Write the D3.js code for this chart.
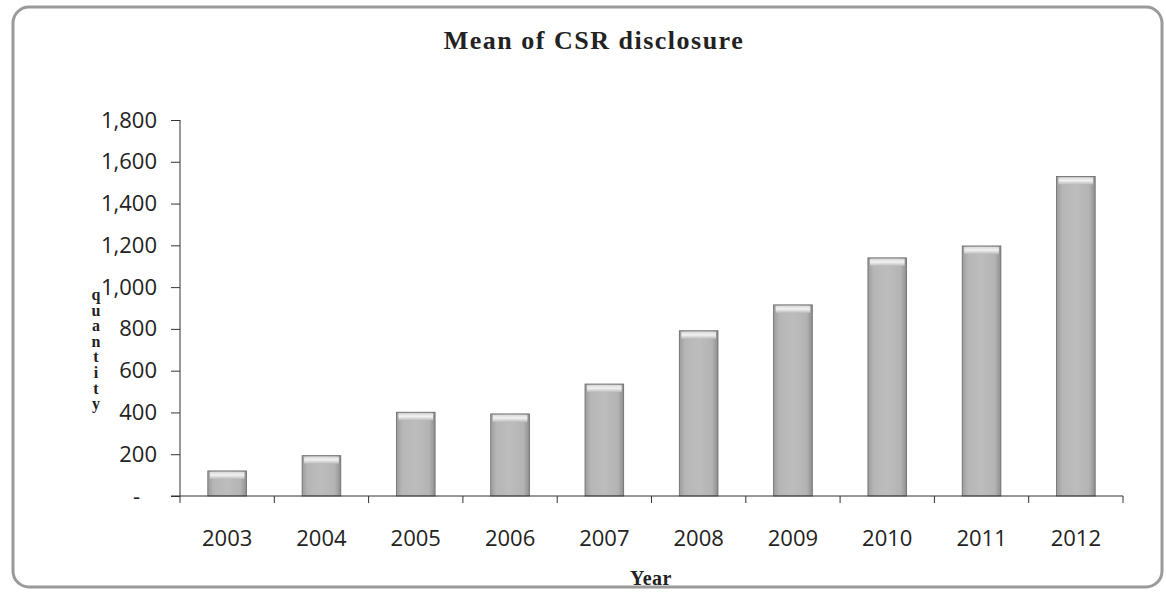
<!DOCTYPE html>
<html>
<head>
<meta charset="utf-8">
<script src="https://cdn.jsdelivr.net/npm/d3@7"></script>
<style>
  body { margin: 0; background: #fff; }
  svg { display: block; }
</style>
</head>
<body>
<svg id="chart" width="1166" height="593"></svg>
<script>
'use strict';

// data
var years = ['2003','2004','2005','2006','2007','2008','2009','2010','2011','2012'];
var meanValues = [120, 193, 401, 393, 536, 791, 915, 1140, 1197, 1530];
var yTicks = [0, 200, 400, 600, 800, 1000, 1200, 1400, 1600, 1800];
var yLabel = 'quantity';

var svg = d3.select('#chart');

// outer rounded frame
svg.append('rect')
  .attr('x', 13).attr('y', 7)
  .attr('width', 1149).attr('height', 580)
  .attr('rx', 16)
  .attr('fill', '#fff')
  .attr('stroke', '#9a9a9a')
  .attr('stroke-width', 3);

// scales
var x = d3.scaleBand().domain(years).range([180, 1123])
  .paddingInner(0.59).paddingOuter(0.295);
var y = d3.scaleLinear().domain([0, 1800]).range([496, 120]);

// gradients for the bars
var defs = svg.append('defs');
var sideGrad = defs.append('linearGradient').attr('id', 'barSide')
  .attr('x1', 0).attr('x2', 1).attr('y1', 0).attr('y2', 0);
sideGrad.append('stop').attr('offset', '0%').attr('stop-color', '#9c9c9c');
sideGrad.append('stop').attr('offset', '15%').attr('stop-color', '#b6b6b6');
sideGrad.append('stop').attr('offset', '50%').attr('stop-color', '#bdbdbd');
sideGrad.append('stop').attr('offset', '85%').attr('stop-color', '#b3b3b3');
sideGrad.append('stop').attr('offset', '100%').attr('stop-color', '#8e8e8e');
var topGrad = defs.append('linearGradient').attr('id', 'barTop')
  .attr('x1', 0).attr('x2', 0).attr('y1', 0).attr('y2', 1);
topGrad.append('stop').attr('offset', '0%').attr('stop-color', '#d8d8d8');
topGrad.append('stop').attr('offset', '45%').attr('stop-color', '#f2f2f2');
topGrad.append('stop').attr('offset', '100%').attr('stop-color', '#bcbcbc');

// bars
var bars = svg.append('g').selectAll('g').data(years)
  .enter().append('g');

bars.append('rect')
  .attr('x', function(d) { return x(d); })
  .attr('y', function(d, i) { return y(meanValues[i]); })
  .attr('width', x.bandwidth())
  .attr('height', function(d, i) { return y(0) - y(meanValues[i]); })
  .attr('fill', 'url(#barSide)')
  .attr('stroke', '#666')
  .attr('stroke-width', 0.8);

bars.append('rect')
  .attr('x', function(d) { return x(d) + 2; })
  .attr('y', function(d, i) { return y(meanValues[i]) + 1; })
  .attr('width', x.bandwidth() - 4)
  .attr('height', 7)
  .attr('fill', 'url(#barTop)');

// y axis
var yAxis = d3.axisLeft(y).tickValues(yTicks).tickSize(9).tickPadding(14)
  .tickFormat(function(d) { return d === 0 ? '-' : d3.format(',')(d); });
var yg = svg.append('g').attr('transform', 'translate(180,0)').call(yAxis);
yg.select('.domain').attr('stroke', '#333').attr('d', 'M0,' + y(1800) + 'V' + y(0));
yg.selectAll('.tick line').attr('stroke', '#333');
yg.selectAll('.tick text')
  .attr('font-family', '"Open Sans", sans-serif')
  .attr('font-size', 22)
  .attr('fill', '#222');
yg.selectAll('.tick text').filter(function(d) { return d === 0; })
  .attr('x', -40);

// x axis
var xAxis = d3.axisBottom(x).tickSize(0).tickPadding(34);
var xg = svg.append('g').attr('transform', 'translate(0,' + y(0) + ')').call(xAxis);
xg.select('.domain').attr('stroke', '#333').attr('d', 'M171,0H1123V7');
xg.selectAll('.tick text')
  .attr('font-family', '"Open Sans", sans-serif')
  .attr('font-size', 22)
  .attr('fill', '#222');

// small ticks between the categories
xg.selectAll('line.sep').data(years)
  .enter().append('line')
  .attr('class', 'sep')
  .attr('x1', function(d) { return x(d) - x.step() * x.paddingOuter(); })
  .attr('x2', function(d) { return x(d) - x.step() * x.paddingOuter(); })
  .attr('y1', 0).attr('y2', 7)
  .attr('stroke', '#333');

// title
svg.append('text')
  .attr('x', 594).attr('y', 49)
  .attr('text-anchor', 'middle')
  .attr('font-family', '"Liberation Serif", "Times New Roman", serif')
  .attr('font-weight', 'bold')
  .attr('font-size', 26)
  .attr('letter-spacing', 1.5)
  .attr('fill', '#222')
  .text('Mean of CSR disclosure');

// x axis title
svg.append('text')
  .attr('x', 651).attr('y', 585)
  .attr('text-anchor', 'middle')
  .attr('font-family', '"Liberation Serif", "Times New Roman", serif')
  .attr('font-weight', 'bold')
  .attr('font-size', 20)
  .attr('letter-spacing', 0.5)
  .attr('fill', '#222')
  .text('Year');

// y axis title, letters stacked upright
svg.append('text')
  .attr('x', 96).attr('y', 286)
  .attr('font-family', '"Liberation Serif", "Times New Roman", serif')
  .attr('font-weight', 'bold')
  .attr('font-size', 16)
  .attr('fill', '#222')
  .style('writing-mode', 'vertical-rl')
  .style('text-orientation', 'upright')
  .style('letter-spacing', '-1.4px')
  .text(yLabel);
</script>
</body>
</html>
